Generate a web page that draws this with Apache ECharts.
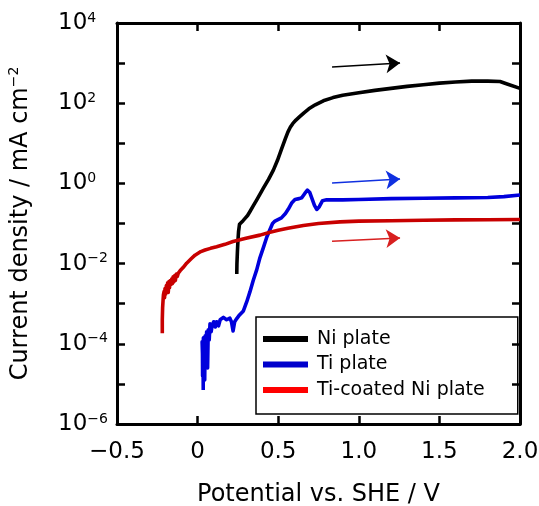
<!DOCTYPE html>
<html>
<head>
    <meta charset="UTF-8"/>
    <title>polarization</title>
    <script type="text/javascript" src="https://cdn.jsdelivr.net/npm/echarts@6/dist/echarts.min.js"></script>
    <style>
        html, body { margin: 0; padding: 0; background: #fff; }
        #chart { width: 539px; height: 506px; }
    </style>
</head>
<body>
<div id="chart"></div>
<script>
    // potential (V vs SHE) and log10(current density / mA cm-2)
    var niPlate = [
        [0.243, -2.26], [0.244, -2.0], [0.247, -1.7], [0.250, -1.45], [0.254, -1.2], [0.260, -1.02],
        [0.268, -0.98], [0.282, -0.93], [0.297, -0.86], [0.310, -0.80], [0.325, -0.70], [0.345, -0.56],
        [0.367, -0.41], [0.388, -0.26], [0.408, -0.12], [0.440, 0.10], [0.470, 0.33], [0.495, 0.57],
        [0.520, 0.85], [0.545, 1.12], [0.560, 1.28], [0.575, 1.40], [0.590, 1.49], [0.610, 1.58],
        [0.635, 1.67], [0.660, 1.76], [0.690, 1.86], [0.730, 1.96], [0.780, 2.06], [0.840, 2.14],
        [0.900, 2.20], [1.000, 2.26], [1.100, 2.32], [1.200, 2.37], [1.300, 2.42], [1.400, 2.46],
        [1.500, 2.50], [1.600, 2.53], [1.700, 2.55], [1.800, 2.55], [1.876, 2.54], [1.920, 2.48],
        [2.000, 2.37]
    ];
    var tiPlate = [
        [0.035, -5.15], [0.034, -4.4], [0.031, -4.8], [0.030, -4.1], [0.028, -3.95], [0.032, -4.5],
        [0.036, -3.85], [0.040, -4.4], [0.044, -4.9], [0.047, -3.8], [0.052, -4.1], [0.056, -3.7],
        [0.062, -4.6], [0.066, -3.65], [0.072, -3.9], [0.077, -3.5], [0.084, -3.7], [0.090, -3.55],
        [0.100, -3.45], [0.110, -3.58], [0.118, -3.45], [0.130, -3.55], [0.140, -3.4], [0.160, -3.34],
        [0.180, -3.4], [0.200, -3.36], [0.210, -3.45], [0.220, -3.68], [0.230, -3.45], [0.243, -3.37],
        [0.260, -3.28], [0.284, -3.18], [0.305, -2.95], [0.325, -2.7], [0.345, -2.42], [0.367, -2.15],
        [0.387, -1.85], [0.408, -1.6], [0.430, -1.33], [0.449, -1.15], [0.465, -1.0], [0.480, -0.94],
        [0.520, -0.86], [0.545, -0.75], [0.563, -0.64], [0.585, -0.48], [0.604, -0.40], [0.630, -0.38],
        [0.646, -0.36], [0.665, -0.25], [0.681, -0.17], [0.695, -0.22], [0.708, -0.36], [0.725, -0.55],
        [0.739, -0.65], [0.755, -0.58], [0.775, -0.43], [0.800, -0.41], [0.900, -0.41], [1.000, -0.40],
        [1.200, -0.38], [1.400, -0.37], [1.600, -0.36], [1.800, -0.35], [1.900, -0.33], [2.000, -0.29]
    ];
    var tiCoatedNi = [
        [-0.219, -3.74], [-0.219, -3.4], [-0.217, -3.1], [-0.214, -2.9], [-0.212, -2.78], [-0.208, -2.7],
        [-0.205, -2.85], [-0.202, -2.62], [-0.198, -2.76], [-0.194, -2.55], [-0.190, -2.66], [-0.186, -2.48],
        [-0.182, -2.72], [-0.178, -2.45], [-0.174, -2.6], [-0.170, -2.42], [-0.166, -2.52], [-0.160, -2.38],
        [-0.156, -2.5], [-0.152, -2.33], [-0.148, -2.46], [-0.142, -2.3], [-0.138, -2.42], [-0.132, -2.26],
        [-0.126, -2.32], [-0.120, -2.24], [-0.109, -2.18],
        [-0.090, -2.1], [-0.068, -1.99], [-0.040, -1.88], [-0.016, -1.79], [0.020, -1.70], [0.046, -1.66],
        [0.080, -1.62], [0.118, -1.58], [0.170, -1.52], [0.220, -1.45], [0.300, -1.37], [0.387, -1.29],
        [0.449, -1.22], [0.500, -1.17], [0.560, -1.12], [0.656, -1.05], [0.750, -1.00], [0.883, -0.96],
        [1.000, -0.94], [1.200, -0.93], [1.400, -0.92], [1.600, -0.91], [1.800, -0.905], [2.000, -0.90]
    ];
    // scan-direction arrows: [start, end] in data coords
    var niArrow = [[0.834, 2.90], [1.256, 3.00]];
    var tiArrow = [[0.834, 0.01], [1.256, 0.11]];
    var coatArrow = [[0.834, -1.44], [1.256, -1.36]];

    var seriesNames = ['Ni plate', 'Ti plate', 'Ti-coated Ni plate'];
    var lineColors = ['#000000', '#0000dc', '#c80000'];
    var legendColors = ['#000000', '#0000cc', '#ff0000'];
    var arrowColors = ['#000000', '#1030e0', '#d82020'];

    var font = 'DejaVu Sans, Liberation Sans, sans-serif';

    function expLabel(v) {
        if (v % 2 !== 0) return '';
        var e = v < 0 ? '\u2212' + (-v) : '' + v;
        return '{b|10}{s|' + e + '}';
    }
    function potLabel(v) {
        if (v === 0) return '0';
        if (v < 0) return '\u2212' + (-v).toFixed(1);
        return v.toFixed(1);
    }

    function makeSeries(i, data, arrow) {
        return {
            name: seriesNames[i],
            type: 'line',
            data: data,
            showSymbol: false,
            symbol: 'none',
            lineStyle: {color: lineColors[i], width: 3.6, join: 'round'},
            itemStyle: {color: lineColors[i]},
            markLine: {
                silent: true,
                symbol: ['none', 'arrow'],
                symbolSize: 14,
                label: {show: false},
                lineStyle: {color: arrowColors[i], width: 1.5, type: 'solid'},
                data: [[{coord: arrow[0]}, {coord: arrow[1]}]]
            }
        };
    }

    var tickStyle = {show: true, inside: true, length: 8, lineStyle: {color: '#000', width: 2.5}};
    var lineStyle = {show: true, onZero: false, lineStyle: {color: '#000', width: 3}};

    var chart = echarts.init(document.getElementById('chart'));
    chart.setOption({
        animation: false,
        backgroundColor: '#fff',
        grid: {left: 117, right: 19, top: 23, bottom: 82, outerBoundsMode: 'none'},
        legend: {
            orient: 'vertical',
            left: 256,
            top: 317,
            icon: 'rect',
            itemWidth: 45,
            itemHeight: 6,
            itemGap: 5.5,
            padding: [12, 33, 14, 7],
            borderColor: '#000',
            borderWidth: 1.5,
            textStyle: {fontFamily: font, fontSize: 19, color: '#000', lineHeight: 20, padding: [0, 0, 0, 4]},
            selectedMode: false,
            data: [
                {name: seriesNames[0], itemStyle: {color: legendColors[0]}},
                {name: seriesNames[1], itemStyle: {color: legendColors[1]}},
                {name: seriesNames[2], itemStyle: {color: legendColors[2]}}
            ]
        },
        xAxis: [{
            type: 'value',
            min: -0.5, max: 2.0, interval: 0.5,
            position: 'bottom',
            name: 'Potential vs. SHE / V',
            nameLocation: 'middle',
            nameGap: 59,
            nameTextStyle: {fontFamily: font, fontSize: 24, color: '#000'},
            axisLine: lineStyle,
            axisTick: tickStyle,
            axisLabel: {formatter: potLabel, margin: 17, fontFamily: font, fontSize: 23, color: '#000'},
            splitLine: {show: false}
        }, {
            type: 'value',
            min: -0.5, max: 2.0, interval: 0.5,
            position: 'top',
            axisLine: lineStyle,
            axisTick: tickStyle,
            axisLabel: {show: false},
            splitLine: {show: false}
        }],
        yAxis: [{
            type: 'value',
            min: -6, max: 4, interval: 1,
            position: 'left',
            name: '{a|Current density / mA cm}{s|\u22122}',
            nameLocation: 'middle',
            nameGap: 82,
            nameTextStyle: {
                rich: {
                    a: {fontFamily: font, fontSize: 24, color: '#000', lineHeight: 28},
                    s: {fontFamily: font, fontSize: 14, color: '#000', verticalAlign: 'top', lineHeight: 14}
                }
            },
            axisLine: lineStyle,
            axisTick: tickStyle,
            axisLabel: {
                formatter: expLabel,
                align: 'left',
                margin: 59,
                rich: {
                    b: {fontFamily: font, fontSize: 23, color: '#000', lineHeight: 24},
                    s: {fontFamily: font, fontSize: 14, color: '#000', verticalAlign: 'top', lineHeight: 14}
                }
            },
            splitLine: {show: false}
        }, {
            type: 'value',
            min: -6, max: 4, interval: 1,
            position: 'right',
            axisLine: lineStyle,
            axisTick: tickStyle,
            axisLabel: {show: false},
            splitLine: {show: false}
        }],
        series: [
            makeSeries(0, niPlate, niArrow),
            makeSeries(1, tiPlate, tiArrow),
            makeSeries(2, tiCoatedNi, coatArrow)
        ]
    });
</script>
</body>
</html>
